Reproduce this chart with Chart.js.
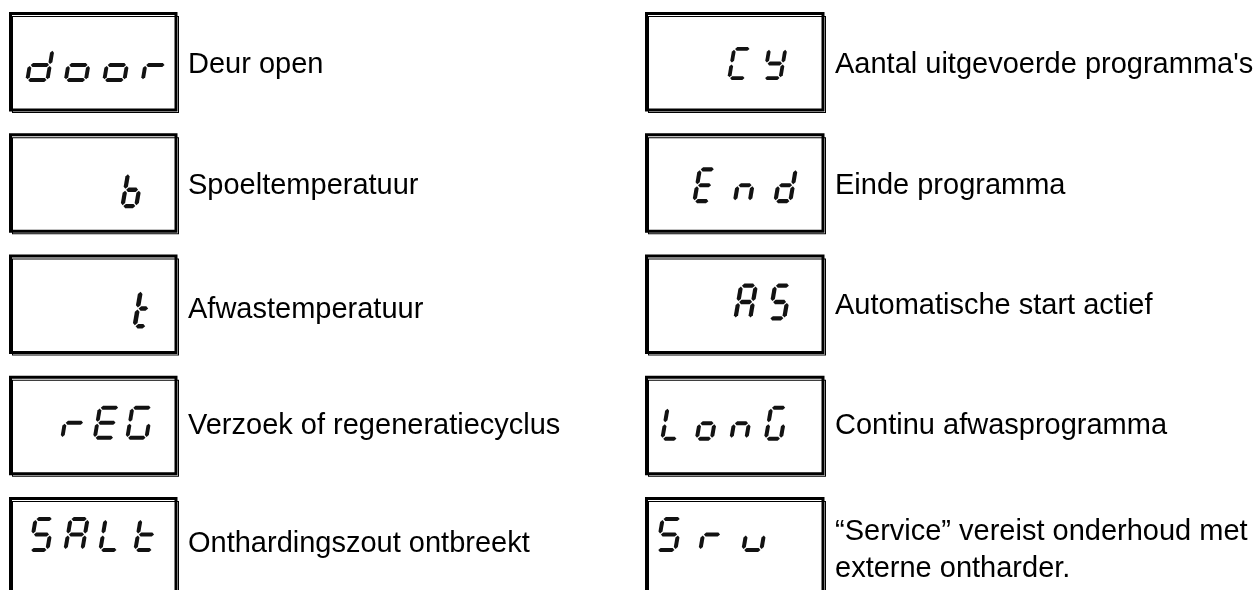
<!DOCTYPE html>
<html>
<head>
<meta charset="utf-8">
<script src="https://cdn.jsdelivr.net/npm/chart.js@4.4.1/dist/chart.umd.min.js"></script>
<style>
html,body{margin:0;padding:0;background:#ffffff;overflow:hidden;}
canvas{display:block;}
</style>
</head>
<body>
<canvas id="c" width="1259" height="590"></canvas>
<script>
// ---- data ----
const codes = ['door', 'b', 't', 'rEG', 'SALt', 'CY', 'End', 'AS', 'LonG', 'Sru'];
const descriptions = [
  ['Deur open'],
  ['Spoeltemperatuur'],
  ['Afwastemperatuur'],
  ['Verzoek of regeneratiecyclus'],
  ['Onthardingszout ontbreekt'],
  ["Aantal uitgevoerde programma's"],
  ['Einde programma'],
  ['Automatische start actief'],
  ['Continu afwasprogramma'],
  ['\u201CService\u201D vereist onderhoud met', 'externe ontharder.']
];
const columnIndex = [0, 0, 0, 0, 0, 1, 1, 1, 1, 1];
const rowIndex = [0, 1, 2, 3, 4, 0, 1, 2, 3, 4];

// seven-segment map (a..g)
const segmentMap = {
  d: 'bcdeg', o: 'cdeg', r: 'eg', b: 'cdefg', t: 'defg', E: 'adefg', G: 'acdef',
  S: 'acdfg', A: 'abcefg', L: 'def', C: 'adef', Y: 'bcdfg', n: 'ceg', u: 'cde'
};

// ---- styles (sizes / offsets of drawing, not data) ----
const boxWidths = [170, 181];
const boxHeight = 101;
const glyphStyle = [
  {dx: 16, pitch: 38.5, dy: 36, h: 34, w: 24, tdy: [61]},
  {dx: 111, pitch: 38, dy: 38, h: 37, w: 18, tdy: [61]},
  {dx: 123, pitch: 38, dy: 34, h: 40, w: 16, tdy: [63]},
  {dx: 51, pitch: 32.5, dy: 30, h: 34, w: 23, tdy: [58]},
  {dx: 19, pitch: 35, dy: 20, h: 35, w: 21, tdy: [55]},
  {dx: 82, pitch: 35, dy: 35, h: 33, w: 20, tdy: [61]},
  {dx: 47, pitch: 40.5, dy: 34, h: 36, w: 19, tdy: [61]},
  {dx: 88, pitch: 34, dy: 29, h: 37, w: 19, tdy: [59]},
  {dx: 15, pitch: 34.5, dy: 30, h: 35, w: 19, tdy: [58]},
  {dx: 10, pitch: 43, dy: 20, h: 35, w: 22, tdy: [43, 80]}
];

function drawGlyph(ctx, ch, X0, Y0, w, h) {
  const segs = segmentMap[ch] || '';
  const s = 0.17, t = Math.max(3.6, h * 0.115), half = t / 2, g = 0.9;
  const xl = half, xr = w - half, yt = half, ym = h / 2, yb = h - half;
  const hseg = (x1, x2, y) => [[x1+g, y], [x1+g+half, y-half], [x2-g-half, y-half], [x2-g, y], [x2-g-half, y+half], [x1+g+half, y+half]];
  const vseg = (x, y1, y2) => [[x, y1+g], [x+half, y1+g+half], [x+half, y2-g-half], [x, y2-g], [x-half, y2-g-half], [x-half, y1+g+half]];
  const geo = {
    a: hseg(xl, xr, yt), b: vseg(xr, yt, ym), c: vseg(xr, ym, yb), d: hseg(xl, xr, yb),
    e: vseg(xl, ym, yb), f: vseg(xl, yt, ym), g: hseg(xl, xr, ym)
  };
  ctx.fillStyle = '#121212';
  for (const k of segs) {
    const pts = geo[k];
    ctx.beginPath();
    pts.forEach(([u, v], i) => {
      const X = X0 + u + s * (h - v), Y = Y0 + v;
      if (i === 0) ctx.moveTo(X, Y); else ctx.lineTo(X, Y);
    });
    ctx.closePath();
    ctx.fill();
  }
}

const panelPlugin = {
  id: 'panelPlugin',
  afterDatasetsDraw(chart) {
    const ctx = chart.ctx;
    const meta = chart.getDatasetMeta(0);
    ctx.save();
    meta.data.forEach((pt, i) => {
      const L = pt.x, T = pt.y;
      const W = boxWidths[columnIndex[i]], H = boxHeight;
      // double frame
      ctx.strokeStyle = '#000';
      ctx.lineWidth = 3;
      ctx.strokeRect(L + 1.5, T + 1.5, W - 4.5, H - 4.5);
      ctx.lineWidth = 1;
      ctx.strokeRect(L + 3.5, T + 4.5, W - 4, H - 5);
      // glyphs
      const st = glyphStyle[i];
      const chars = codes[i].split('');
      chars.forEach((ch, k) => drawGlyph(ctx, ch, L + st.dx + k * st.pitch, T + st.dy, st.w, st.h));
      // label
      ctx.fillStyle = '#000';
      ctx.font = '29px "Liberation Sans", Arial, sans-serif';
      ctx.textBaseline = 'alphabetic';
      ctx.textAlign = 'left';
      descriptions[i].forEach((line, j) => ctx.fillText(line, L + W + 9, T + st.tdy[j]));
    });
    ctx.restore();
  }
};

new Chart(document.getElementById('c'), {
  type: 'scatter',
  data: {
    datasets: [{
      data: codes.map((c, i) => ({x: columnIndex[i], y: rowIndex[i]})),
      pointRadius: 0,
      pointHoverRadius: 0
    }]
  },
  options: {
    responsive: false,
    animation: false,
    devicePixelRatio: 1,
    layout: {padding: {left: 9, right: 614, top: 12, bottom: 93}},
    scales: {
      x: {type: 'linear', min: 0, max: 1, display: false},
      y: {type: 'linear', min: 0, max: 4, reverse: true, display: false}
    },
    plugins: {legend: {display: false}, tooltip: {enabled: false}}
  },
  plugins: [panelPlugin]
});
</script>
</body>
</html>
